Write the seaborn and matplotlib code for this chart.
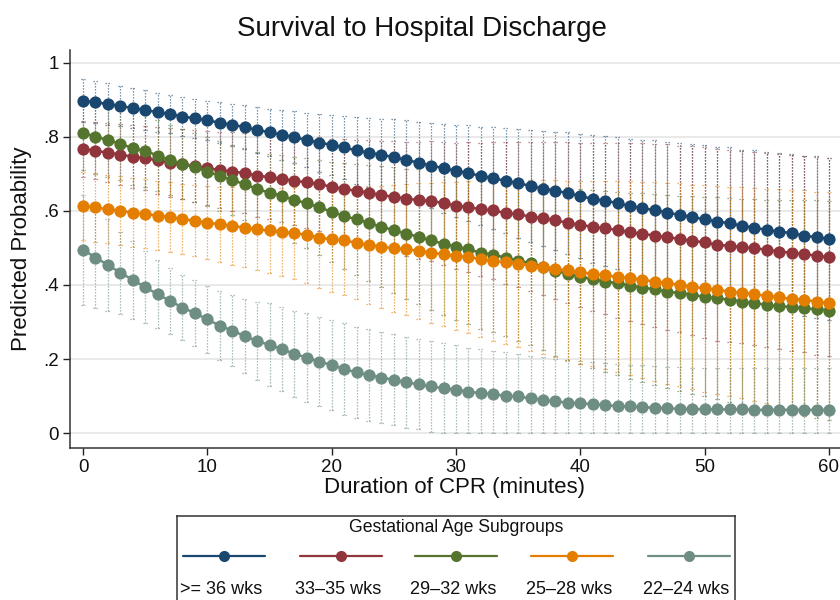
import numpy as np
import pandas as pd
import matplotlib
matplotlib.use("Agg")
import matplotlib.pyplot as plt
from matplotlib.lines import Line2D
import seaborn as sns

# ---------------- data ----------------
minutes = list(range(0, 61))
groups = [">= 36 wks", "33\u201335 wks", "29\u201332 wks", "25\u201328 wks", "22\u201324 wks"]
colors = ["#1a476f", "#90353b", "#55752f", "#e37e00", "#6e8e84"]

ge36 = [0.897,0.893,0.888,0.883,0.877,0.872,0.866,0.861,0.854,0.850,0.844,0.838,0.832,0.826,0.818,0.812,0.805,0.799,
        0.791,0.784,0.778,0.771,0.763,0.757,0.751,0.745,0.737,0.730,0.722,0.715,0.708,0.702,0.694,0.688,0.681,0.675,0.667,0.660,0.654,
        0.648,0.640,0.632,0.627,0.621,0.613,0.607,0.602,0.595,0.589,0.583,0.577,0.571,0.567,0.559,0.555,0.548,0.544,0.540,0.533,0.529,0.524]
ge33 = [0.767,0.762,0.757,0.752,0.746,0.742,0.736,0.730,0.726,0.721,0.715,0.710,0.706,0.702,0.695,0.691,0.686,0.681,
        0.677,0.672,0.665,0.659,0.654,0.649,0.642,0.638,0.633,0.629,0.626,0.621,0.614,0.610,0.604,0.601,0.594,0.591,0.584,0.580,0.574,
        0.568,0.562,0.557,0.553,0.548,0.542,0.538,0.533,0.529,0.524,0.519,0.515,0.508,0.506,0.502,0.499,0.495,0.490,0.487,0.483,0.479,0.475]
ge29 = [0.811,0.800,0.791,0.781,0.769,0.762,0.749,0.737,0.727,0.717,0.706,0.694,0.683,0.672,0.659,0.649,0.641,0.629,
        0.621,0.609,0.598,0.586,0.577,0.567,0.557,0.548,0.538,0.530,0.520,0.511,0.503,0.496,0.487,0.481,0.474,0.465,0.459,0.449,0.438,
        0.430,0.422,0.415,0.409,0.405,0.398,0.393,0.388,0.382,0.378,0.373,0.368,0.364,0.360,0.355,0.351,0.346,0.343,0.340,0.337,0.334,0.331]
ge25 = [0.614,0.609,0.604,0.600,0.595,0.592,0.587,0.583,0.578,0.573,0.568,0.564,0.559,0.555,0.550,0.547,0.542,0.540,
        0.535,0.528,0.523,0.520,0.514,0.508,0.503,0.499,0.496,0.492,0.487,0.483,0.478,0.475,0.470,0.465,0.461,0.457,0.452,0.449,0.444,
        0.439,0.434,0.430,0.426,0.422,0.418,0.414,0.409,0.405,0.400,0.395,0.391,0.387,0.382,0.379,0.375,0.370,0.367,0.362,0.360,0.355,0.351]
ge22 = [0.495,0.474,0.454,0.433,0.414,0.394,0.375,0.357,0.339,0.324,0.307,0.290,0.277,0.262,0.249,0.238,0.227,0.214,
        0.204,0.193,0.184,0.173,0.164,0.157,0.150,0.144,0.137,0.132,0.126,0.121,0.117,0.112,0.108,0.105,0.101,0.099,0.094,0.090,0.086,
        0.082,0.081,0.078,0.076,0.073,0.072,0.070,0.069,0.067,0.066,0.065,0.065,0.064,0.064,0.064,0.063,0.063,0.063,0.063,0.063,0.063,0.063]

# 95% CI half-widths
hw36 = [.058,.057,.056,.055,.054,.053,.053,.052,.052,.053,.053,.055,.057,.059,.061,.064,.067,.071,.074,.078,.081,
        .085,.090,.094,.098,.103,.107,.111,.115,.120,.124,.129,.133,.138,.142,.147,.151,.155,.159,.164,.168,
        .172,.175,.179,.182,.185,.188,.191,.194,.197,.200,.202,.204,.206,.208,.210,.212,.214,.216,.218,.219]
hw33 = [.075,.077,.080,.082,.085,.087,.090,.093,.095,.098,.100,.103,.106,.108,.111,.114,.117,.120,.123,.127,.130,
        .134,.138,.142,.146,.150,.154,.158,.162,.166,.170,.175,.180,.186,.191,.196,.201,.206,.211,.217,.222,
        .227,.231,.236,.240,.244,.247,.250,.252,.255,.257,.258,.259,.260,.261,.262,.263,.264,.265,.267,.268]
hw29 = [.100,.100,.099,.099,.098,.097,.096,.095,.095,.094,.094,.094,.095,.097,.100,.104,.109,.115,.121,.128,.135,
        .142,.149,.156,.163,.170,.176,.182,.187,.192,.197,.201,.205,.209,.213,.217,.221,.225,.229,.233,.236,
        .240,.244,.247,.251,.254,.257,.260,.263,.266,.269,.272,.275,.278,.280,.283,.286,.288,.291,.294,.296]
hw25 = [.092,.092,.092,.093,.093,.093,.094,.094,.095,.096,.098,.101,.104,.107,.111,.115,.119,.124,.129,.135,.141,
        .147,.153,.159,.165,.171,.177,.183,.189,.195,.200,.205,.210,.215,.220,.225,.230,.234,.238,.242,.246,
        .250,.254,.258,.262,.265,.268,.271,.274,.276,.279,.281,.283,.285,.287,.289,.291,.293,.295,.297,.300]
lo22 = [.346,.337,.331,.322,.309,.297,.283,.268,.252,.235,.216,.197,.180,.162,.144,.126,.113,.098,.085,.072,.062,
        .050,.041,.034,.027,.021,.014,.010,.004,.000,.000,.000,.000,.000,.000,.000,.000,.000,.000,.000,.000,
        .000,.000,.000,.000,.000,.000,.000,.000,.000,.000,.000,.000,.000,.000,.000,.000,.000,.000,.000,.000]
hi22 = [.644,.611,.577,.544,.519,.491,.467,.446,.426,.413,.398,.383,.374,.362,.354,.350,.341,.330,.323,.314,.306,
        .296,.287,.280,.273,.267,.260,.254,.248,.242,.237,.231,.226,.223,.218,.215,.209,.205,.200,.196,.194,
        .191,.189,.186,.185,.183,.181,.179,.178,.177,.177,.176,.176,.176,.175,.175,.175,.175,.175,.175,.175]

means = [ge36, ge33, ge29, ge25, ge22]
los = [np.array(ge36) - np.array(hw36), np.array(ge33) - np.array(hw33),
       np.array(ge29) - np.array(hw29), np.array(ge25) - np.array(hw25), np.array(lo22)]
his = [np.array(ge36) + np.array(hw36), np.array(ge33) + np.array(hw33),
       np.array(ge29) + np.array(hw29), np.array(ge25) + np.array(hw25), np.array(hi22)]

df = pd.DataFrame({
    "minute": np.tile(minutes, len(groups)),
    "prob": np.concatenate(means),
    "group": np.repeat(groups, len(minutes)),
})

# ---------------- figure ----------------
sns.set_theme(style="white")
plt.rcParams["font.family"] = ["Liberation Sans", "DejaVu Sans"]

fig = plt.figure(figsize=(8.4, 6.0), dpi=100)
ax = fig.add_axes([70 / 840, 1 - 448 / 600, 770 / 840, (448 - 50) / 600])

for yv in [0, .2, .4, .6, .8, 1.0]:
    ax.axhline(yv, color="#e9e9e9", lw=1.4, zorder=0)

dot = (0, (1, 1.4))
for i in range(len(groups)):
    x = np.array(minutes)
    ax.vlines(x, los[i], his[i], colors=colors[i], linestyles=dot, lw=0.9, alpha=0.75, zorder=1)
    ax.hlines(los[i], x - 0.2, x + 0.2, colors=colors[i], linestyles=dot, lw=0.9, alpha=0.75, zorder=1)
    ax.hlines(his[i], x - 0.2, x + 0.2, colors=colors[i], linestyles=dot, lw=0.9, alpha=0.75, zorder=1)

sns.lineplot(data=df, x="minute", y="prob", hue="group", hue_order=groups,
             palette=colors, marker="o", markersize=8.8, markeredgewidth=0,
             linewidth=1.8, legend=False, ax=ax, zorder=3)

ax.set_xlim(-1.046, 60.885)
ax.set_ylim(-0.040, 1.034)
ax.set_xticks([0, 10, 20, 30, 40, 50, 60])
ax.set_yticks([0, .2, .4, .6, .8, 1.0])
ax.set_yticklabels(["0", ".2", ".4", ".6", ".8", "1"])
ax.tick_params(axis="both", which="major", direction="out", length=5, width=1,
               color="#222222", labelsize=13.5, labelcolor="#111111", pad=3,
               left=True, bottom=True)
for s in ["top", "right"]:
    ax.spines[s].set_visible(False)
for s in ["left", "bottom"]:
    ax.spines[s].set_color("#333333")
    ax.spines[s].set_linewidth(1.1)
ax.grid(False)

ax.set_xlabel("Duration of CPR (minutes)", fontsize=16, color="#111111", labelpad=1)
ax.set_ylabel("Predicted Probability", fontsize=16, color="#111111", labelpad=8)
fig.text(422 / 840, 1 - 29 / 600, "Survival to Hospital Discharge", ha="center", va="center",
         fontsize=20, color="#111111")

# ---------------- legend (drawn in pixel coordinates) ----------------
lax = fig.add_axes([177 / 840, 0, (735 - 177) / 840, (600 - 516) / 600])
lax.set_xlim(177, 735)
lax.set_ylim(600, 516)
lax.set_xticks([])
lax.set_yticks([])
lax.set_facecolor("white")
for s in ["top", "left", "right"]:
    lax.spines[s].set_color("#333333")
    lax.spines[s].set_linewidth(1.1)
lax.spines["bottom"].set_visible(False)
lax.text(456, 528, "Gestational Age Subgroups", ha="center", va="center", fontsize=12.7, color="#111111")
key_centers = [224, 341, 456, 572, 689]
for c, g, col in zip(key_centers, groups, colors):
    lax.add_line(Line2D([c - 41, c + 41], [556, 556], color=col, lw=1.6))
    lax.plot([c], [556], "o", color=col, markersize=8, markeredgewidth=0)
    lax.text(c - 3, 590, g, ha="center", va="center", fontsize=13, color="#111111")

fig.savefig("out.png", dpi=100)
